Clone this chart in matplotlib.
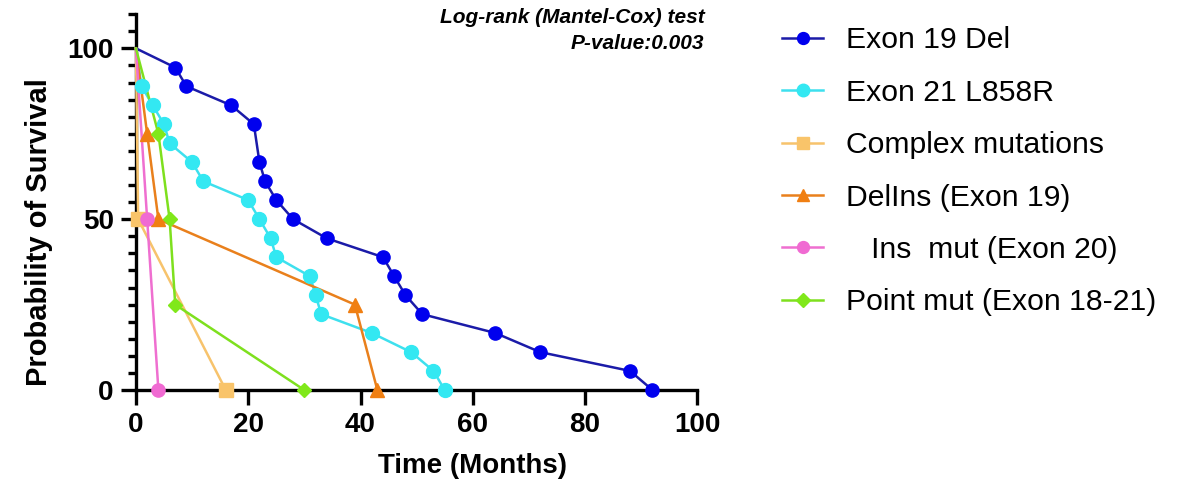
import matplotlib
matplotlib.use("Agg")
import matplotlib.pyplot as plt
from matplotlib.ticker import MultipleLocator

plt.rcParams['font.family'] = ['Liberation Sans', 'DejaVu Sans']

# ---- data ----
del19_t = [0, 7, 9, 17, 21, 22, 23, 25, 28, 34, 44, 46, 48, 51, 64, 72, 88, 92]
del19_s = [100, 94.4, 88.9, 83.3, 77.8, 66.7, 61.1, 55.6, 50, 44.4, 38.9, 33.3, 27.8, 22.2, 16.7, 11.1, 5.6, 0]

l858r_t = [0, 1, 3, 5, 6, 10, 12, 20, 22, 24, 25, 31, 32, 33, 42, 49, 53, 55]
l858r_s = [100, 88.9, 83.3, 77.8, 72.2, 66.7, 61.1, 55.6, 50, 44.4, 38.9, 33.3, 27.8, 22.2, 16.7, 11.1, 5.6, 0]

complex_t = [0, 0.4, 16]
complex_s = [100, 50, 0]

delins_t = [0, 2, 4, 39, 43]
delins_s = [100, 75, 50, 25, 0]

ins20_t = [0, 2, 4]
ins20_s = [100, 50, 0]

point_t = [0, 4, 6, 7, 30]
point_s = [100, 75, 50, 25, 0]

labels = ["Exon 19 Del", "Exon 21 L858R", "Complex mutations",
          "DelIns (Exon 19)", "   Ins  mut (Exon 20)", "Point mut (Exon 18-21)"]

x_ticks = [0, 20, 40, 60, 80, 100]
y_ticks = [0, 50, 100]

# ---- plot ----
fig = plt.figure(figsize=(11.82, 4.90), dpi=100)
ax = fig.add_axes([0.115, 0.204, 0.475, 0.767])

series = [
    (del19_t, del19_s, '#1b1ba8', '#0000ee', 'o', 9.5),
    (l858r_t, l858r_s, '#3ee0ee', '#33e8f2', 'o', 10),
    (complex_t, complex_s, '#f7c36c', '#f9c46a', 's', 9.5),
    (delins_t, delins_s, '#e9801c', '#f07f12', '^', 10),
    (ins20_t, ins20_s, '#ef6fd0', '#f06ad2', 'o', 9.5),
    (point_t, point_s, '#7ee01e', '#80e81a', 'D', 7.5),
]

handles = []
for (t, s, lc, mc, mk, ms), lab in zip(series, labels):
    ax.plot(t, s, color=lc, lw=1.8, zorder=3, clip_on=False)
    ax.plot(t[1:], s[1:], linestyle='none', marker=mk, ms=ms, color=mc,
            markeredgecolor=mc, zorder=4, clip_on=False)
    h, = ax.plot([], [], color=lc, lw=1.8, marker=mk, ms=ms * 0.9,
                 markerfacecolor=mc, markeredgecolor=mc)
    handles.append(h)

ax.set_xlim(0, 100)
ax.set_ylim(0, 110)
ax.set_xticks(x_ticks)
ax.set_yticks(y_ticks)
ax.yaxis.set_minor_locator(MultipleLocator(5))

for sp in ['top', 'right']:
    ax.spines[sp].set_visible(False)
for sp in ['left', 'bottom']:
    ax.spines[sp].set_linewidth(2.4)
    ax.spines[sp].set_zorder(2)

ax.tick_params(axis='both', which='major', length=11, width=2.4,
               labelsize=20, pad=5)
ax.tick_params(axis='y', which='minor', length=6, width=2.4)
for lbl in ax.get_xticklabels() + ax.get_yticklabels():
    lbl.set_fontweight('bold')

ax.set_ylabel("Probability of Survival", fontsize=21, fontweight='bold')
ax.yaxis.set_label_coords(-0.147, 0.42)
ax.set_xlabel("Time (Months)", fontsize=20, fontweight='bold')
ax.xaxis.set_label_coords(0.6, -0.168)

fig.text(0.596, 0.937, "Log-rank (Mantel-Cox) test\nP-value:0.003",
         ha='right', va='center', fontsize=15, fontweight='bold',
         fontstyle='italic', linespacing=1.45)

leg = fig.legend(handles, labels, loc='upper left', bbox_to_anchor=(0.6516, 0.971),
                 frameon=False, fontsize=21.7, handlelength=1.35, handletextpad=0.78,
                 labelspacing=0.81, borderaxespad=0)

fig.savefig("out.png", dpi=100)
